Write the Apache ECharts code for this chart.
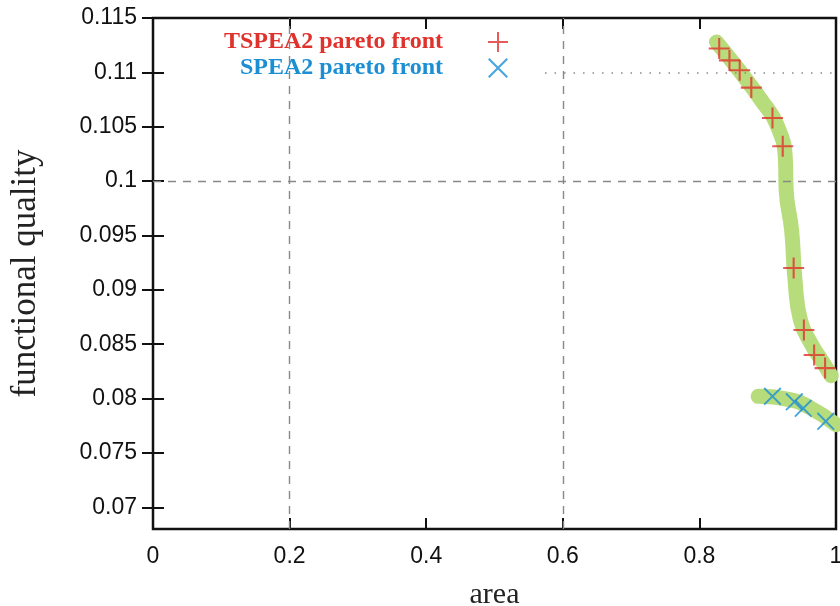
<!DOCTYPE html>
<html>
<head>
<meta charset="utf-8">
<script src="https://cdn.jsdelivr.net/npm/echarts@6/dist/echarts.min.js"></script>
<style>
  html, body { margin: 0; padding: 0; background: #fff; }
  #chart { width: 840px; height: 606px; }
</style>
</head>
<body>
<div id="chart"></div>
<script>
// TSPEA2 pareto front (+ markers)
const tspeaArea = [0.829, 0.844, 0.859, 0.876, 0.907, 0.922, 0.938, 0.953, 0.968, 0.984]
const tspeaQuality = [0.1122, 0.1111, 0.1102, 0.1086, 0.1058, 0.1032, 0.0920, 0.0863, 0.0840, 0.0828]
// SPEA2 pareto front (x markers)
const speaArea = [0.907, 0.939, 0.952, 0.985]
const speaQuality = [0.0802, 0.0797, 0.0791, 0.0779]
// green highlight strokes drawn over each front
const bandTopArea = [0.825, 0.858, 0.891, 0.914, 0.926, 0.927, 0.935, 0.940, 0.948, 0.964, 0.980, 0.993]
const bandTopQuality = [0.1128, 0.1102, 0.1074, 0.1051, 0.1019, 0.0992, 0.0955, 0.0909, 0.0872, 0.0850, 0.0834, 0.0821]
const bandLowArea = [0.886, 0.932, 0.961, 1.0]
const bandLowQuality = [0.0802, 0.0799, 0.0792, 0.0776]
// axis ticks
const yTicks = [0.07, 0.075, 0.08, 0.085, 0.09, 0.095, 0.1, 0.105, 0.11, 0.115]
const xGrid = [0.2, 0.6]
const yGrid = [0.1]

const red = '#e0322d'
const blue = '#1c8fd4'
const green = '#b7dc7c'
const plus = 'path://M0,4.5H10V5.5H0Z M4.5,0H5.5V10H4.5Z'
const cross = 'path://M0,0.75L0.75,0L10,9.25L9.25,10Z M9.25,0L10,0.75L0.75,10L0,9.25Z'

const zip = (xs, ys) => xs.map((x, i) => [x, ys[i]])

const myChart = echarts.init(document.getElementById('chart'))

const gridLines = xGrid.map(v => ({ xAxis: v })).concat(yGrid.map(v => ({ yAxis: v })))

const options = {
  animation: false,
  grid: {
    left: 153, right: 4, top: 18, bottom: 77,
    outerBoundsMode: 'none',
    containLabel: false,
    show: true, borderColor: '#111', borderWidth: 2.5,
    backgroundColor: 'transparent'
  },
  legend: {
    orient: 'vertical',
    align: 'right',
    right: 327,
    top: 25,
    itemWidth: 100,
    itemHeight: 20,
    itemGap: 2,
    textStyle: { fontFamily: 'Liberation Serif', fontWeight: 'bold', fontSize: 24, lineHeight: 20 },
    data: [
      { name: 'TSPEA2 pareto front', textStyle: { color: red } },
      { name: 'SPEA2 pareto front', textStyle: { color: blue } }
    ]
  },
  xAxis: [{
    type: 'value', min: 0, max: 1, interval: 0.2,
    name: 'area', nameLocation: 'middle', nameGap: 51,
    nameTextStyle: { fontFamily: 'Liberation Serif', fontSize: 30, color: '#222' },
    axisLine: { show: false },
    axisTick: { inside: true, length: 11, lineStyle: { color: '#111', width: 2 } },
    axisLabel: { margin: 16, fontFamily: 'Liberation Sans', fontSize: 23, color: '#111' },
    splitLine: { show: false }
  }, {
    type: 'value', position: 'top', min: 0, max: 1, interval: 0.2,
    axisLine: { show: false },
    axisTick: { inside: true, length: 11, lineStyle: { color: '#111', width: 2 } },
    axisLabel: { show: false },
    splitLine: { show: false }
  }],
  yAxis: [{
    type: 'value', min: 0.068, max: 0.115,
    name: 'functional quality', nameLocation: 'middle', nameGap: 110,
    nameTextStyle: { fontFamily: 'Liberation Serif', fontSize: 35, color: '#222' },
    axisLine: { show: false },
    axisTick: { inside: true, length: 11, customValues: yTicks, lineStyle: { color: '#111', width: 2 } },
    axisLabel: { margin: 16, customValues: yTicks, fontFamily: 'Liberation Sans', fontSize: 23, color: '#111',
      formatter: v => String(+v.toFixed(3)) },
    splitLine: { show: false }
  }, {
    type: 'value', position: 'right', min: 0.068, max: 0.115,
    axisLine: { show: false },
    axisTick: { inside: true, length: 11, customValues: yTicks, lineStyle: { color: '#111', width: 2 } },
    axisLabel: { show: false },
    splitLine: { show: false }
  }],
  series: [{
    name: 'band-top', type: 'line', smooth: true, symbol: 'none', silent: true, z: 1,
    lineStyle: { color: green, width: 15, cap: 'round', join: 'round' },
    data: zip(bandTopArea, bandTopQuality),
    markLine: {
      silent: true, symbol: 'none', label: { show: false },
      lineStyle: { color: '#888', width: 1.4, type: [8, 7] },
      data: gridLines
    }
  }, {
    name: 'band-low', type: 'line', smooth: true, symbol: 'none', silent: true, z: 1,
    lineStyle: { color: green, width: 15, cap: 'round', join: 'round' },
    data: zip(bandLowArea, bandLowQuality),
    markLine: {
      silent: true, symbol: 'none', label: { show: false },
      lineStyle: { color: '#888', width: 1.6, type: [1.5, 8] },
      data: [[{ coord: [0.574, 0.11] }, { coord: [1, 0.11] }]]
    }
  }, {
    name: 'TSPEA2 pareto front', type: 'scatter', symbol: plus, symbolSize: 21, z: 3,
    itemStyle: { color: red },
    data: zip(tspeaArea, tspeaQuality)
  }, {
    name: 'SPEA2 pareto front', type: 'scatter', symbol: cross, symbolSize: 18, z: 3,
    itemStyle: { color: blue },
    data: zip(speaArea, speaQuality)
  }]
}

myChart.setOption(options)
</script>
</body>
</html>
